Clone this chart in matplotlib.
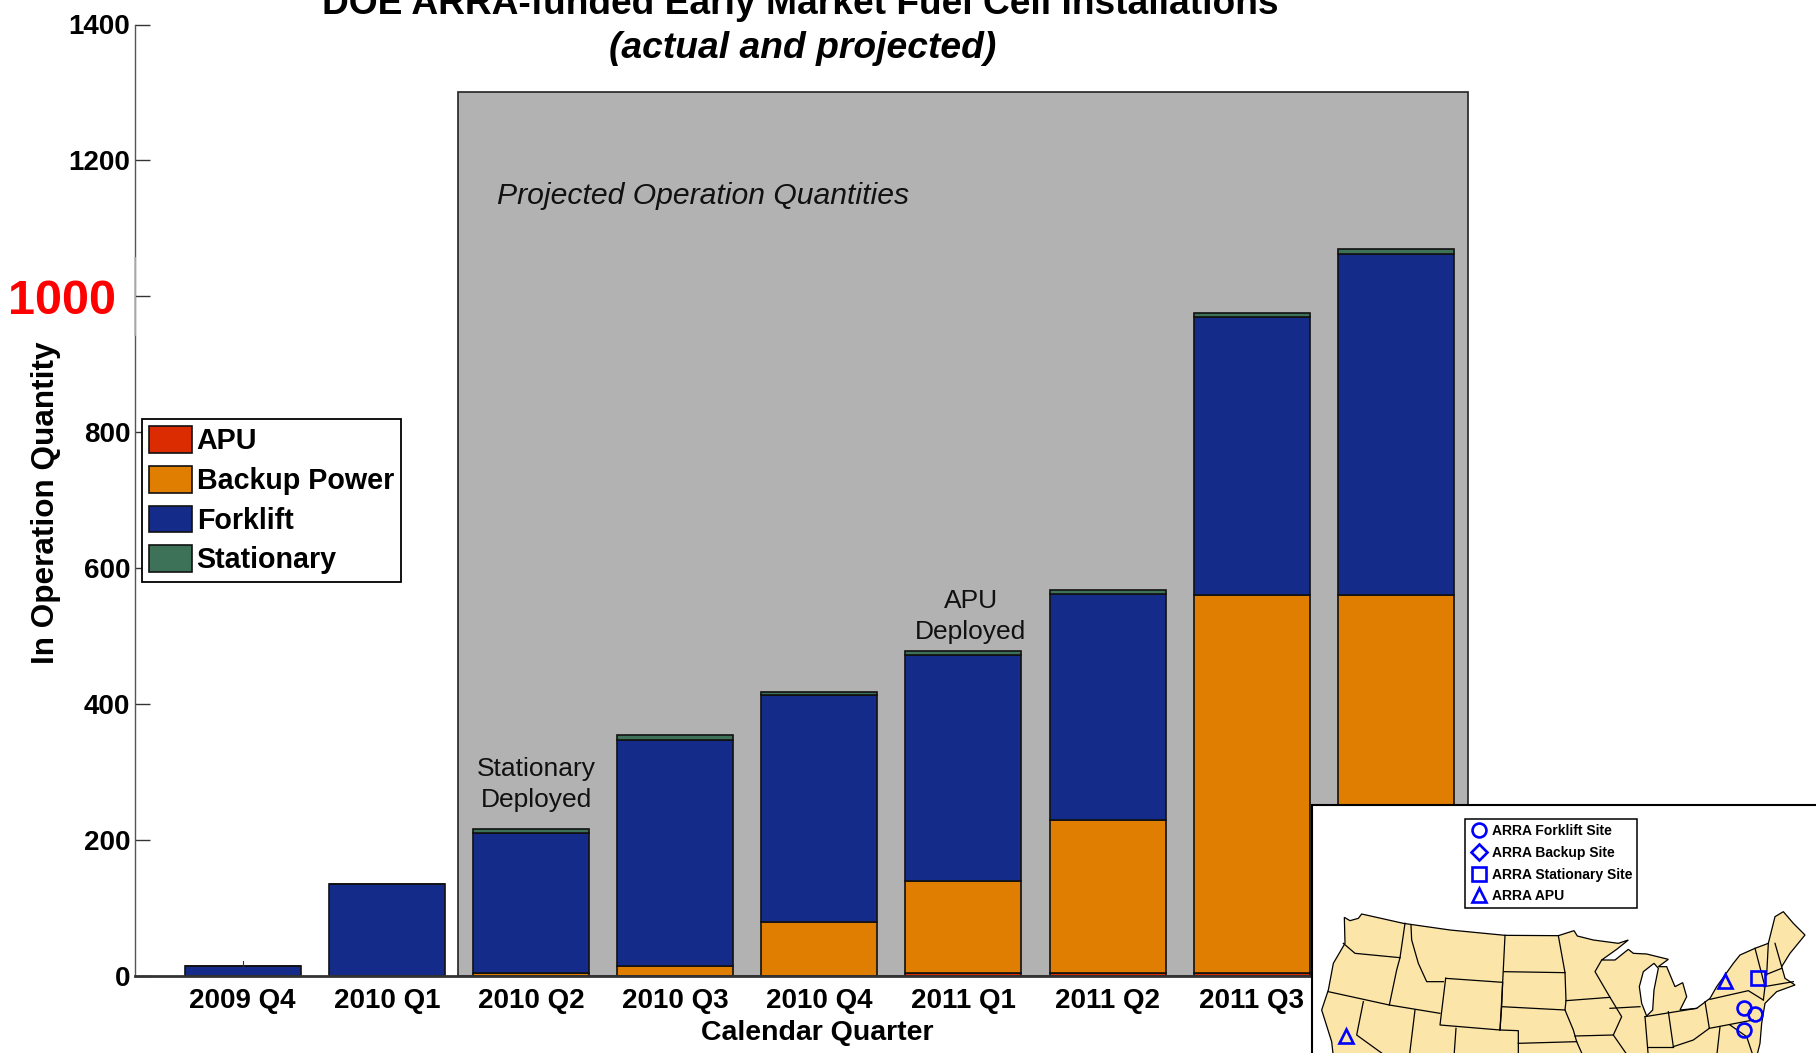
import matplotlib
matplotlib.use("Agg")
import matplotlib.pyplot as plt
from matplotlib.patches import Rectangle, Polygon

plt.rcParams['font.family'] = ['Liberation Sans', 'DejaVu Sans']

quarters = ['2009 Q4', '2010 Q1', '2010 Q2', '2010 Q3', '2010 Q4', '2011 Q1', '2011 Q2', '2011 Q3', '2011 Q4']
apu = [0, 0, 0, 0, 0, 5, 5, 5, 5]
backup = [0, 0, 5, 15, 80, 135, 225, 555, 555]
forklift = [15, 135, 205, 332, 333, 333, 332, 409, 503]
stationary = [0, 0, 7, 7, 5, 5, 6, 6, 7]
yticks = [0, 200, 400, 600, 800, 1000, 1200, 1400]
series_names = ['APU', 'Backup Power', 'Forklift', 'Stationary']
series_colors = ['#DB2B00', '#DF7E00', '#142B8A', '#3D7259']
projected_top = 1300

W, H = 1816, 1053
fig = plt.figure(figsize=(W / 100, H / 100), dpi=100)
L, R, B, T = 134.5, 1468, 976, 24.5
ax = fig.add_axes([L / W, 1 - B / H, (R - L) / W, (B - T) / H])
XMAX = 9.50

ax.add_patch(Rectangle((2.495, 0), XMAX - 2.495, projected_top, fc='#B2B2B2', ec='#222222', lw=1.2, zorder=1, clip_on=False))

x = list(range(1, len(quarters) + 1))
bottom = [0] * len(x)
handles = []
for name, vals, col in zip(series_names, [apu, backup, forklift, stationary], series_colors):
    h = ax.bar(x, vals, 0.805, bottom=bottom, color=col, edgecolor='#111111', linewidth=1.2, label=name, zorder=2)
    handles.append(h)
    bottom = [b + v for b, v in zip(bottom, vals)]

ax.set_xlim(0.25, XMAX)
ax.set_ylim(0, 1400)
ax.set_xticks(x, quarters, fontsize=20, fontweight='bold')
ax.set_yticks(yticks, [str(t) for t in yticks], fontsize=20, fontweight='bold')
ax.tick_params(axis='x', length=0, pad=9)
ax.tick_params(axis='y', direction='in', length=10.5, width=1, color='#333333', pad=3)
for tick, t in zip(ax.yaxis.get_major_ticks(), yticks):
    if t == 1000:
        tick.label1.set_color('#FF0000')
        tick.label1.set_fontsize(35)
        tick.set_pad(13)
for s in ['top', 'right']:
    ax.spines[s].set_visible(False)
ax.spines['left'].set_color('#555555')
ax.spines['left'].set_linewidth(1)
ax.spines['bottom'].set_color('#333333')
ax.spines['bottom'].set_linewidth(2)
ax.spines['bottom'].set_zorder(5)
# lighter stretch of the axis line beside the enlarged red label
ax.plot([0.25, 0.25], [943, 1057], color='#B8B8B8', lw=1.2, zorder=6, clip_on=False)
# small stray mark above the first bar
ax.plot([1, 1], [15, 22], color='#333333', lw=0.8, zorder=3)

fig.text(817 / W, 1 - 1033 / H, 'Calendar Quarter', ha='center', va='center', fontsize=20.5, fontweight='bold')
fig.text(46 / W, 1 - 503 / H, 'In Operation Quantity', rotation=90, ha='center', va='center', fontsize=22.7, fontweight='bold')
fig.text(800 / W, 1 - 5 / H, 'DOE ARRA-funded Early Market Fuel Cell Installations', ha='center', va='center',
         fontsize=26.7, fontweight='bold')
fig.text(803 / W, 1 - 49 / H, '(actual and projected)', ha='center', va='center', fontsize=26.8, fontweight='bold',
         style='italic')

ax.text(2.765, 1147, 'Projected Operation Quantities', fontsize=21.7, style='italic', va='center', ha='left', color='#111111')
ax.text(3.04, 282, 'Stationary\nDeployed', fontsize=19, ha='center', va='center', linespacing=1.4, color='#111111')
ax.text(6.05, 529, 'APU\nDeployed', fontsize=19, ha='center', va='center', linespacing=1.4, color='#111111')

leg = ax.legend(handles, series_names, loc='upper left', bbox_to_anchor=((142 - L) / (R - L), (B - 419) / (B - T)),
                borderaxespad=0, prop={'size': 20.6, 'weight': 'bold'}, fancybox=False, framealpha=1, edgecolor='black',
                handlelength=1.5, handleheight=1.05, handletextpad=0.15, labelspacing=0.37, borderpad=0.26)
leg.get_frame().set_linewidth(1.3)
leg.set_zorder(6)

# Inset map; coordinates are in a 3x grid of the corner region
inset_x0, inset_y0 = 1300, 790
m = fig.add_axes([inset_x0 / W, 0, (W - inset_x0) / W, (H - inset_y0) / H], zorder=10)
m.set_xlim(0, 1548)
m.set_ylim(789, 0)
m.axis('off')
m.add_patch(Rectangle((35, 45), 1600, 800, fc='white', ec='black', lw=1.5, zorder=0, clip_on=True))

land = [(133, 382), (150, 392), (175, 385), (185, 372), (310, 400), (450, 420), (615, 436), (775, 437), (822, 422),
        (832, 438), (880, 450), (955, 460), (985, 450), (950, 478), (905, 510), (945, 510), (985, 478), (1000, 490),
        (1040, 492), (1105, 508), (1075, 530), (1100, 530), (1125, 590), (1148, 578), (1160, 620), (1140, 660),
        (1190, 655), (1230, 625), (1250, 590), (1300, 520), (1320, 495), (1365, 475), (1405, 460), (1425, 380),
        (1450, 365), (1480, 400), (1515, 435), (1470, 490), (1445, 530), (1455, 565), (1485, 585), (1430, 605),
        (1395, 640), (1385, 700), (1380, 760), (1370, 800), (100, 800), (95, 755), (65, 660), (85, 600), (100, 520),
        (135, 460), (133, 382)]
m.add_patch(Polygon(land, closed=True, fc='#FBE5A8', ec='black', lw=0.9, zorder=1))
lake = [(1062, 520), (1030, 545), (1018, 590), (1025, 640), (1040, 678), (1058, 660), (1062, 600), (1075, 535)]
m.add_patch(Polygon(lake, closed=True, fc='white', ec='black', lw=0.9, zorder=2))
borders = [
    [(130, 460), (165, 490), (300, 503)], [(315, 400), (300, 503), (290, 540), (268, 645)],
    [(85, 605), (268, 645), (420, 670)], [(190, 635), (170, 735), (260, 800)],
    [(333, 407), (335, 450), (355, 520), (380, 575), (430, 575)],
    [(437, 565), (420, 705), (600, 720), (608, 577), (437, 565)], [(615, 436), (608, 577), (605, 650), (600, 720)],
    [(612, 545), (795, 548)], [(775, 437), (795, 548), (798, 632), (795, 660), (820, 720), (830, 755), (850, 800)],
    [(605, 650), (795, 660)], [(468, 715), (462, 800)], [(600, 720), (655, 722), (655, 800)], [(655, 760), (830, 755)],
    [(345, 660), (328, 800)], [(798, 632), (930, 622), (965, 680), (940, 735), (825, 738)],
    [(905, 510), (885, 545), (930, 622)], [(930, 655), (1020, 650)], [(1035, 680), (1045, 800)],
    [(1105, 665), (1120, 770)], [(1035, 680), (1190, 655)], [(1215, 635), (1228, 715)],
    [(1230, 628), (1345, 602), (1390, 630)], [(1228, 715), (1360, 690)], [(1120, 770), (1180, 750), (1228, 715)],
    [(940, 735), (985, 800)], [(1045, 770), (1120, 770)], [(1260, 710), (1250, 800)], [(1290, 705), (1340, 740), (1360, 800)],
    [(1365, 475), (1395, 590), (1390, 630)], [(1405, 460), (1400, 555)], [(1425, 460), (1445, 530)],
    [(1392, 590), (1480, 575)], [(1395, 555), (1445, 535)],
]
for seg in borders:
    xs, ys = zip(*seg)
    m.plot(xs, ys, color='black', lw=0.9, zorder=3, solid_joinstyle='round')

site_styles = [('ARRA Forklift Site', 'o', [1331, 1366, 1331], [653, 672, 720]),
               ('ARRA Backup Site', 'D', [], []),
               ('ARRA Stationary Site', 's', [1374], [564]),
               ('ARRA APU', '^', [1275, 137], [573, 738])]
for label, mk, xs, ys in site_styles:
    m.plot(xs, ys, ls='none', marker=mk, ms=10 if mk != 'D' else 8, mfc='none', mec='#0000FF', mew=1.9, label=label, zorder=5)
il = m.legend(loc='upper left', bbox_to_anchor=(495 / 1548, 1 - 88 / 789), borderaxespad=0, ncol=1,
              prop={'size': 10, 'weight': 'bold'}, fancybox=False, framealpha=1, edgecolor='black',
              handlelength=1.3, handletextpad=0.25, labelspacing=0.55, borderpad=0.36)
il.get_frame().set_linewidth(1.1)

fig.savefig('out.png', dpi=100)
